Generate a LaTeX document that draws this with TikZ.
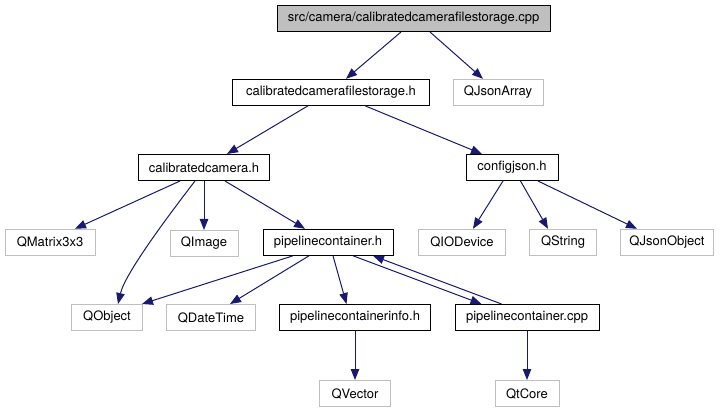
\documentclass[tikz,border=0pt]{standalone}
\usepackage{fontspec}
\newfontfamily\graphfont{TeX Gyre Heros}
\usepackage{xcolor}
\definecolor{edgeblue}{HTML}{191970}
\definecolor{extborder}{HTML}{BFBFBF}
\definecolor{rootfill}{HTML}{BFBFBF}
\usepackage{tikz}
\usetikzlibrary{positioning, arrows.meta}
\tikzset{
  >={Triangle[length=11pt, width=8.5pt]},
  every node/.style={font=\graphfont\fontsize{13}{15}\selectfont},
  header/.style={
    rectangle, draw=black, fill=white, line width=1pt,
    minimum height=26pt, inner sep=0pt
  },
  rootfile/.style={header, fill=rootfill},
  external/.style={header, draw=extborder},
  inclarrow/.style={->, edgeblue, line width=1pt}
}

\begin{document}
\begin{tikzpicture}[x=1pt, y=-1pt, node distance=49pt]
\useasboundingbox (0,0) rectangle (725,411);

\node[rootfile, minimum width=273pt] (cpp) at (413.7,18.5) {src/camera/calibratedcamerafilestorage.cpp};

\node[header, minimum width=197pt] (storage) at (331,92.3) {calibratedcamerafilestorage.h};
\node[external, minimum width=90pt] (qjsonarray) at (498,92.3) {QJsonArray};

\node[header, minimum width=131pt] (camera) at (204,167.5) {calibratedcamera.h};
\node[header, minimum width=92pt] (configjson) at (512,167.5) {configjson.h};

\node[external, minimum width=90pt] (qmatrix) at (50,242.3) {QMatrix3x3};
\node[external, minimum width=68pt, below=of camera] (qimage) {QImage};
\node[header, minimum width=130pt] (pipeline) at (328,242.3) {pipelinecontainer.h};
\node[external, minimum width=87pt] (qiodevice) at (462,242.3) {QIODevice};
\node[external, minimum width=67pt] (qstring) at (563,242.3) {QString};
\node[external, minimum width=93pt] (qjsonobject) at (667,242.3) {QJsonObject};

\node[external, minimum width=71pt] (qobject) at (107,317.5) {QObject};
\node[external, minimum width=89pt] (qdatetime) at (211,317.5) {QDateTime};
\node[header, minimum width=151pt] (pipelineinfo) at (355,317.5) {pipelinecontainerinfo.h};
\node[header, minimum width=144pt] (pipelinecpp) at (527,317.5) {pipelinecontainer.cpp};

\node[external, minimum width=71pt, below=of pipelineinfo] (qvector) {QVector};
\node[external, minimum width=64pt, below=of pipelinecpp] (qtcore) {QtCore};

\draw[inclarrow] ([xshift=-12.7pt]cpp.south) -- ([xshift=15pt]storage.north);
\draw[inclarrow] ([xshift=16.3pt]cpp.south) -- ([xshift=-15pt]qjsonarray.north);
\draw[inclarrow] ([xshift=-23pt]storage.south) -- ([xshift=23pt]camera.north);
\draw[inclarrow] ([xshift=34pt]storage.south) -- ([xshift=-30pt]configjson.north);
\draw[inclarrow] ([xshift=-24pt]camera.south) -- ([xshift=25pt]qmatrix.north);
\draw[inclarrow] ([xshift=-9pt]camera.south) .. controls +(-30,39) and +(7,-30) .. ([xshift=11pt]qobject.north);
\draw[inclarrow] (camera.south) -- (qimage.north);
\draw[inclarrow] ([xshift=21pt]camera.south) -- ([xshift=-23pt]pipeline.north);
\draw[inclarrow] ([xshift=-9pt]configjson.south) -- ([xshift=11pt]qiodevice.north);
\draw[inclarrow] ([xshift=8.5pt]configjson.south) -- ([xshift=-15pt]qstring.north);
\draw[inclarrow] ([xshift=26pt]configjson.south) -- ([xshift=-30pt]qjsonobject.north);
\draw[inclarrow] ([xshift=-35pt]pipeline.south) -- ([xshift=-1pt]qobject.north east);
\draw[inclarrow] ([xshift=-19pt]pipeline.south) -- ([xshift=19pt]qdatetime.north);
\draw[inclarrow] ([xshift=5pt]pipeline.south) -- ([xshift=-8.5pt]pipelineinfo.north);
\draw[inclarrow] ([xshift=25pt]pipeline.south) -- ([xshift=-45.5pt]pipelinecpp.north);
\draw[inclarrow] ([xshift=-25.5pt]pipelinecpp.north) -- ([xshift=45pt]pipeline.south);
\draw[inclarrow] (pipelineinfo) -- (qvector);
\draw[inclarrow] (pipelinecpp) -- (qtcore);
\end{tikzpicture}
\end{document}
